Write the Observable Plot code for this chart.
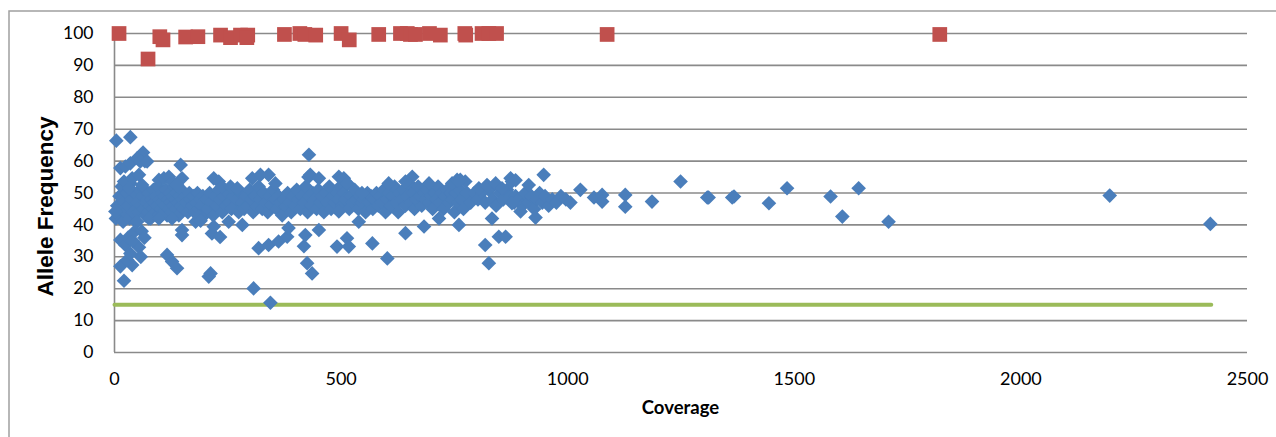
<!DOCTYPE html>
<html><head><meta charset="utf-8">
<script src="https://cdn.jsdelivr.net/npm/d3@7"></script>
<script src="https://cdn.jsdelivr.net/npm/@observablehq/plot@0.6"></script>
<style>body{margin:0;background:#fff} svg{display:block}</style>
</head><body><div id="chart"></div>
<script>
const xTicks = [0, 500, 1000, 1500, 2000, 2500];
const yTicks = [0, 10, 20, 30, 40, 50, 60, 70, 80, 90, 100];
const xTitle = "Coverage";
const yTitle = "Allele Frequency";

// threshold line (allele frequency 15%)
const threshold = [[0, 15], [2420, 15]];

// homozygous calls (red squares): [coverage, frequency]
const homozygous = [
  [10,100],[74,92],[100,99],[107,98],[157,98.9],[184,99],[234,99.5],[256,98.7],[278,99.5],[294,99.5],
  [292,98.7],[375,99.7],[409,100],[420,99.7],[444,99.5],[500,100],[518,98],[583,99.7],[631,100],[646,100],
  [653,99.7],[664,99.7],[695,100],[719,99.5],[773,100],[775,99.5],[811,100],[826,100],[843,100],[1087,99.7],
  [1821,99.7]
];

// heterozygous calls (blue diamonds): [coverage, frequency]
const heterozygous = [
  [3,42],[6,46],[9,43],[11,49],[14,45],[16,52],[19,41],[22,47],[24,44],[27,50],[30,46],[33,42],[35,53],
  [38,48],[41,44],[44,50],[47,41],[50,47],[53,44],[56,51],[59,46],
  [62,49],[64,45],[66,51],[68,43],[70,47],[72,48],[74,44],[76,50],[78,46],[80,42],[82,48],[84,45],[86,51],[88,47],[90,44],
  [92,49],[94,46],[96,52],[98,43],[100,48],[102,45],[104,50],[106,47],[108,44],[110,49],[112,46],[114,51],[116,43],[118,48],
  [120,45],[122,50],[124,47],[126,44],[128,49],[130,46],[132,52],[134,48],[136,45],[138,50],[140,47],[142,43],[144,49],
  [146,46],[148,51],[150,48],[153,45],[156,49],[159,47],[162,44],[165,50],[168,48],[171,46],[174,49],[177,44],[180,47],
  [183,50],[186,45],[189,48],[192,46],[195,49],[198,43],
  [202,48],[206,45],[210,50],[214,47],[218,43],[222,49],[226,46],[230,51],[234,48],[238,44],[242,49],[246,46],[250,50],
  [254,47],[258,45],[262,49],[266,46],[270,48],[274,44],[278,50],[282,47],[286,45],[290,49],[294,46],[298,51],[302,48],
  [306,44],[310,49],[314,46],[318,52],[322,48],[326,45],[330,50],[334,47],[338,44],[342,49],[346,46],[350,51],[354,48],
  [358,45],[362,49],[366,47],[370,43],[374,48],[378,46],[382,50],[386,47],[390,44],[394,49],[398,46],
  [402,51],[406,48],[410,45],[414,49],[418,47],[422,52],[426,44],[430,49],[434,46],[438,50],[442,48],[446,45],[450,51],
  [454,47],[458,49],[462,44],[466,50],[470,47],[474,52],[478,45],[482,49],[486,47],[490,50],[494,48],[498,52],[502,46],
  [506,50],[510,48],[514,53],[518,45],[522,49],[526,47],[530,51],[534,48],[538,45],[542,49],[546,47],[550,48],[554,44],
  [558,50],[562,47],[566,49],[570,45],[574,48],[578,50],[582,46],[586,49],[590,47],[594,51],[598,44],[602,48],[606,50],
  [610,46],[614,49],[618,52],[622,47],[626,44],[630,50],[634,48],[638,51],[642,46],[646,49],[650,53],[654,47],[658,50],
  [662,45],[666,48],[670,52],[674,49],[678,46],[682,50],[686,48],[690,51],[694,47],[698,49],
  [702,45],[706,50],[710,48],[714,52],[718,47],[722,50],[726,45],[730,49],[734,51],[738,47],[742,50],[746,48],[750,44],
  [754,50],[758,47],[762,51],[766,48],[770,45],[778,50],[786,47],[794,50],[802,48],[810,50],[818,47],[826,51],[834,48],
  [842,46],[850,50],[858,48],[866,51],[874,49],[882,47],
  [885,49],[892,48],[900,46],[906,50],[914,47],[920,49],[926,45],[932,48],[938,50],[944,47],[950,49],[958,46],[966,48],
  [975,47],[985,49],[996,48],[1006,47],
  [4,66.4],[35,67.5],[63,62.7],[67,60],[146,58.8],[429,62],[428,55],
  [13,57.8],[24,58.3],[35,59.3],[50,60.9],[57,59.9],[72,59.9],[21,53.6],[39,54.6],[54,55.7],[61,52.5],[32,51.5],
  [98,54.1],[109,54.6],[120,55.1],[127,53.6],[149,54.6],[138,52.5],[219,54.6],[230,53.6],[237,52],[304,54.6],[322,55.7],
  [340,55.7],[355,53],[256,52],[271,51.5],
  [432,55.7],[451,54.6],[495,55.1],[506,54.6],[513,53],[546,50],[605,53],[657,55.1],[642,53.6],[694,53],[745,53],
  [756,54.1],[774,53.6],[804,51.5],[822,52.5],[841,53],[855,51.5],[874,54.6],
  [13,35.3],[24,33.7],[54,33],[13,27],[39,27.4],[21,22.5],[116,30.6],[127,28.5],[138,26.4],[149,38.4],[149,36.8],
  [208,23.8],[212,24.8],[307,20.1],[344,15.6],[215,37.3],[233,36.2],[282,40],[318,32.7],[340,33.7],[362,34.8],[381,36.3],
  [384,39],[418,33.3],[425,28],[436,24.8],[421,36.8],
  [451,38.4],[495,44.2],[491,33.2],[513,35.8],[517,33.2],[539,41],[569,34.2],[602,29.5],[642,37.4],[683,39.5],[716,42],
  [760,40],[763,54.1],[818,33.7],[826,28],[848,36.3],[833,42],[877,46.8],
  [863,36.3],[877,53.6],[885,54],[947,55.7],[914,52.5],[896,44.2],[929,42.3],[1028,51],[1058,48.6],[1076,49.4],[1076,47.3],
  [1127,49.4],[1127,45.7],[1186,47.3],[1249,53.6],[1308,48.6],[1311,48.6],[1367,48.9],[1363,48.6],[1444,46.8],[1484,51.5],
  [1580,48.9],[1606,42.6],[1642,51.5],[1708,41],[2196,49.2],[2418,40.3],
  [2,44.2],[50,41],[76,42],[98,42],[127,42],[179,41],[186,42.6],[219,39.5],[252,41],[190,41.3],[30,36],[40,35],[28,29],
  [45,38],[60,38],[66,36],[58,30],[35,31]
];

const plot = Plot.plot({
  width: 1276, height: 437,
  marginLeft: 114, marginRight: 29, marginTop: 33, marginBottom: 85,
  style: {fontFamily: "Lato, 'Open Sans', sans-serif", color: "#000", background: "#fff"},
  x: {domain: [0, 2500]},
  y: {domain: [0, 100]},
  marks: [
    Plot.ruleY(yTicks, {stroke: "#8a8a8a", strokeWidth: 1.6}),
    Plot.ruleX([0], {stroke: "#8a8a8a", strokeWidth: 1.6}),
    Plot.line(threshold, {x: d => d[0], y: d => d[1], stroke: "#9BBB59", strokeWidth: 4, strokeLinecap: "round"}),
    Plot.dot(heterozygous, {x: d => d[0], y: d => d[1], symbol: "diamond2", r: 6.6, fill: "#4A7EBB", stroke: "none"}),
    Plot.dot(homozygous, {x: d => d[0], y: d => d[1], symbol: "square", r: 8.3, fill: "#C0504D", stroke: "none"}),
    Plot.axisY({ticks: yTicks, tickSize: 0, tickPadding: 21, label: null, fontSize: 17.5, tickFormat: d => String(d)}),
    Plot.axisX({ticks: xTicks, tickSize: 0, tickPadding: 20, label: null, fontSize: 18, tickFormat: d => String(d)})
  ]
});

const svg = d3.select(plot);
svg.insert("rect", ":first-child")
  .attr("x", 9).attr("y", 11).attr("width", 1400).attr("height", 600)
  .attr("fill", "none").attr("stroke", "#a0a0a0").attr("stroke-width", 1.5);
svg.append("text")
  .attr("transform", "translate(52.6,206.5) rotate(-90)")
  .attr("text-anchor", "middle")
  .attr("font-family", "'Liberation Sans', Arial, sans-serif")
  .attr("font-weight", "bold").attr("font-size", 22.5).attr("fill", "#000")
  .text(yTitle);
svg.append("text")
  .attr("x", 680.5).attr("y", 414)
  .attr("text-anchor", "middle")
  .attr("font-family", "Lato, sans-serif")
  .attr("font-weight", "bold").attr("font-size", 18.5).attr("fill", "#000")
  .text(xTitle);

document.getElementById("chart").appendChild(plot);
</script>
</body></html>
